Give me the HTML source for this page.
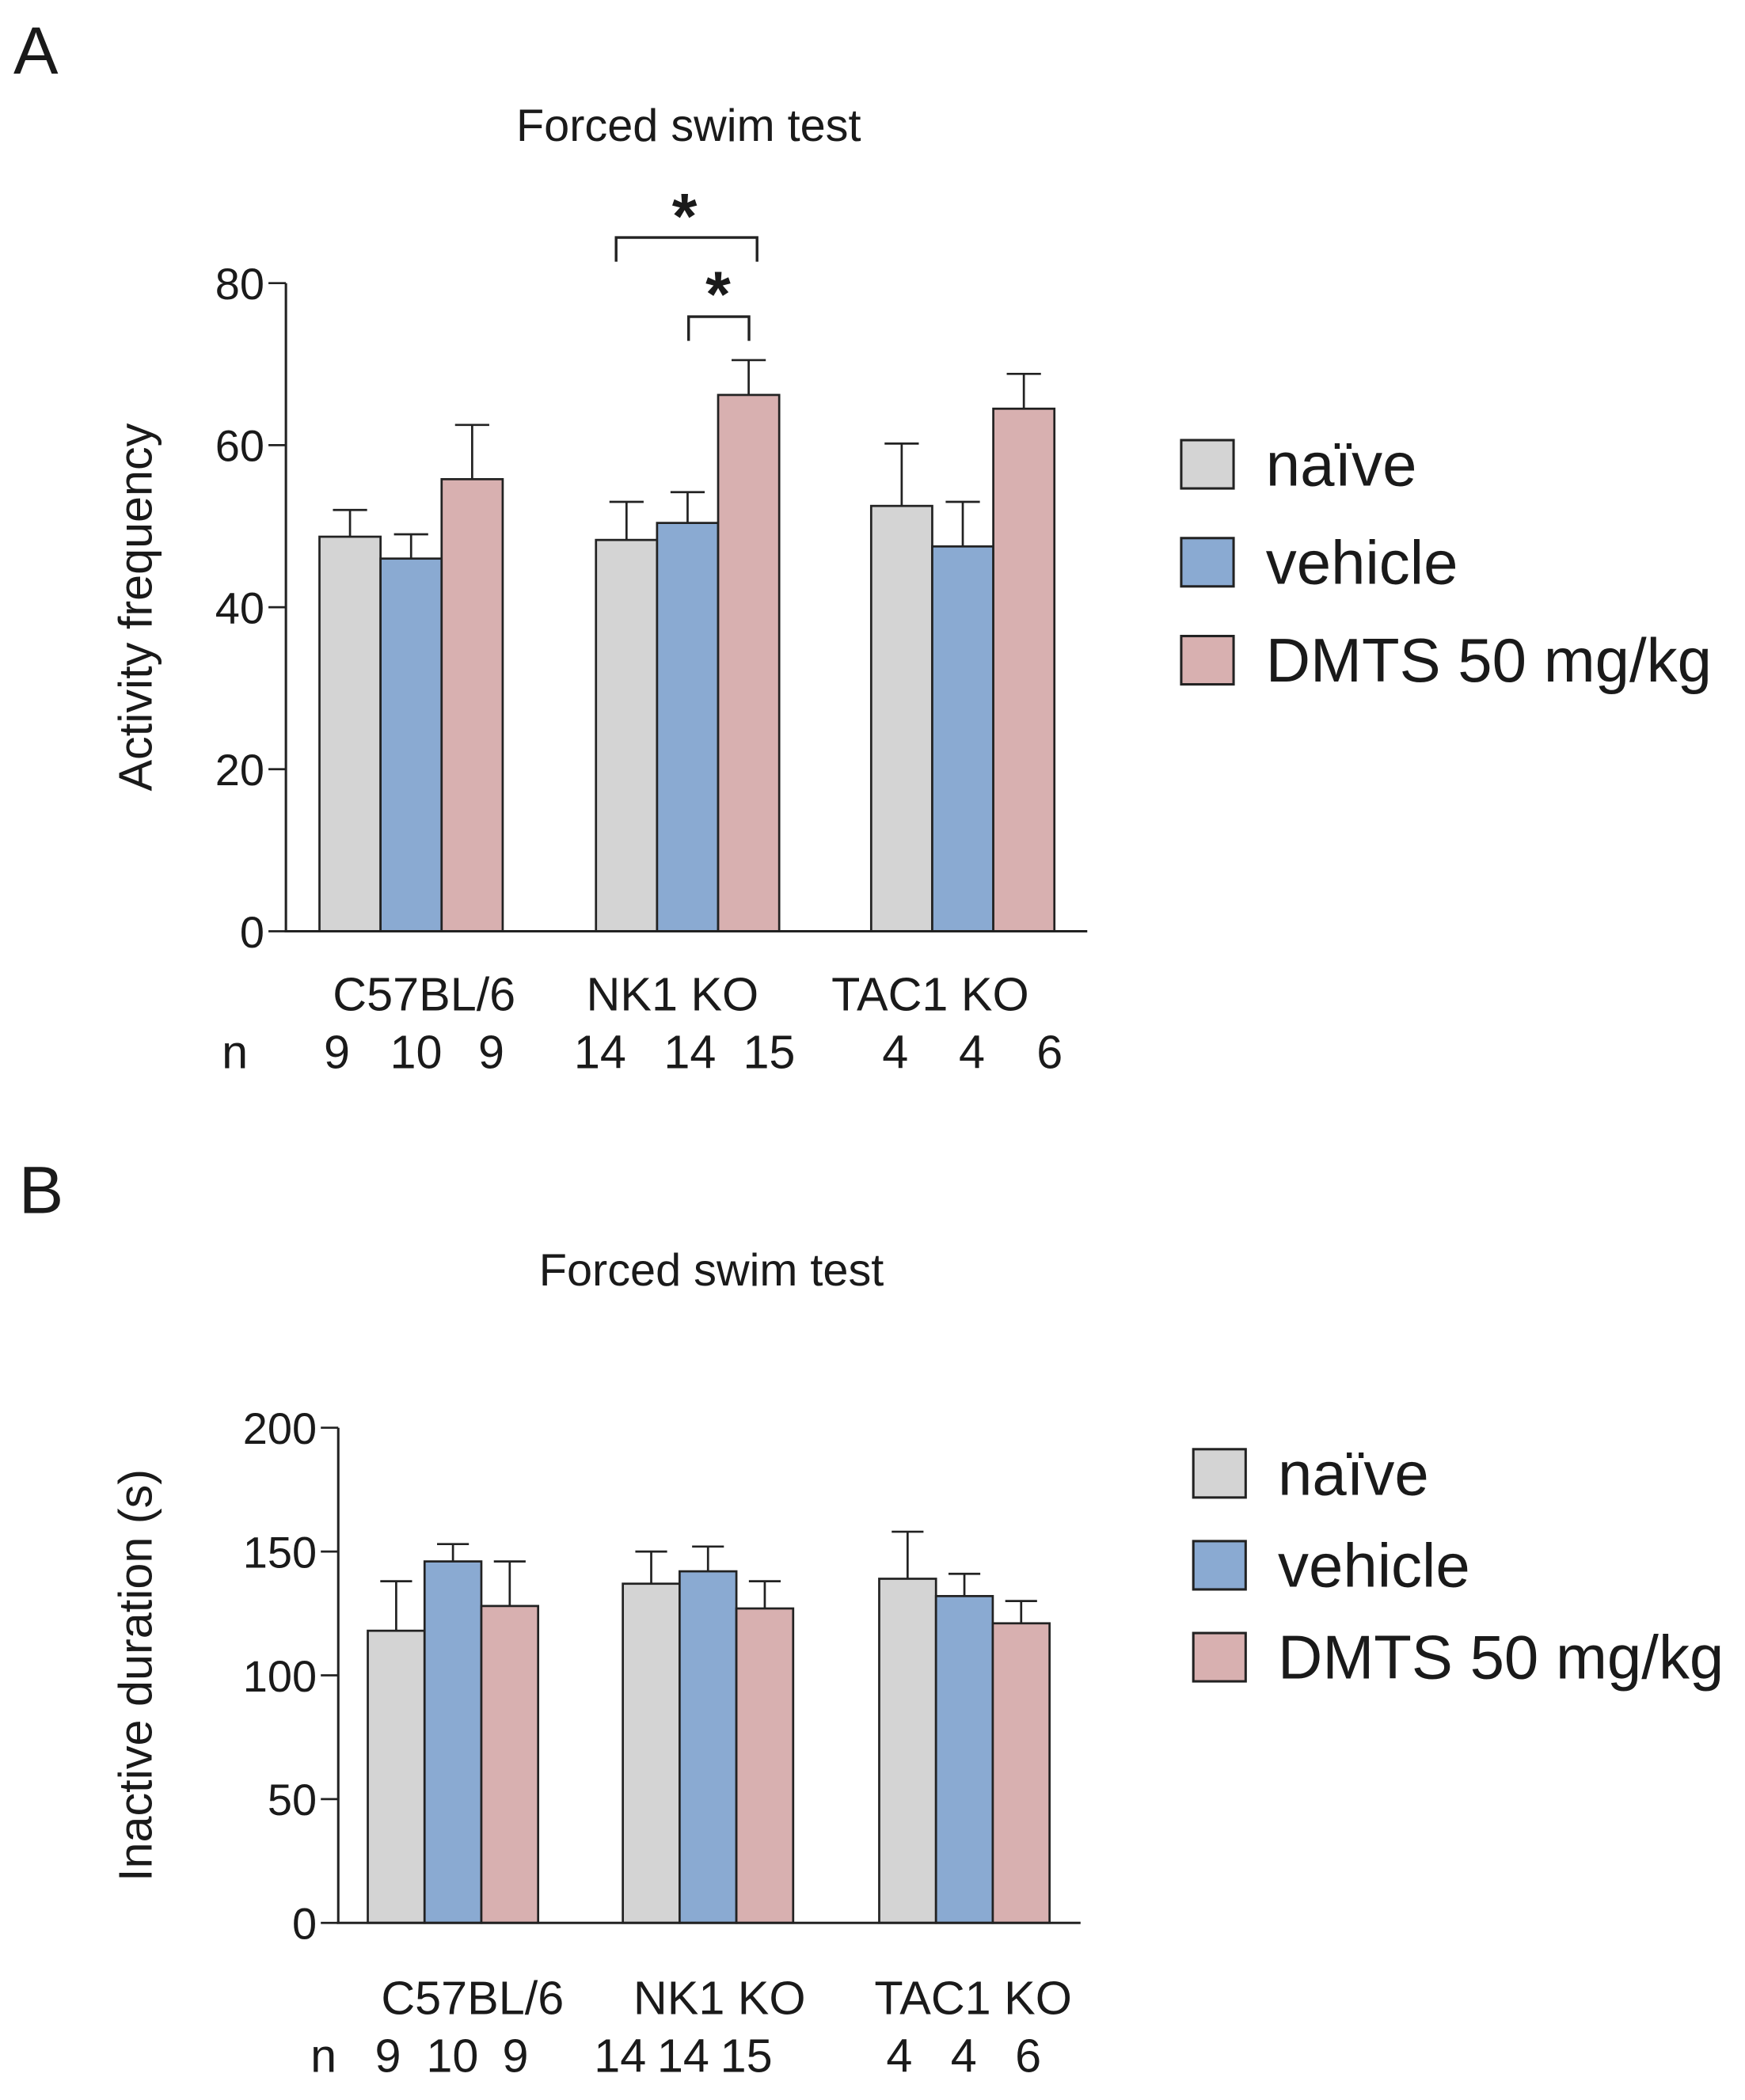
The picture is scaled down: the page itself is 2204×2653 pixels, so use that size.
<!DOCTYPE html>
<html><head><meta charset="utf-8"><style>
html,body{margin:0;padding:0;background:#fff;}
svg{display:block;}
text{font-family:"Liberation Sans",sans-serif;fill:#1a1a1a;}
</style></head><body>
<svg id="fig" width="2204" height="2653" viewBox="0 0 1300 1565" preserveAspectRatio="none">
<text x="10" y="55" font-size="50">A</text>
<text x="513" y="105" font-size="34" text-anchor="middle">Forced swim test</text>
<text x="14" y="904" font-size="50">B</text>
<text x="530" y="958" font-size="34" text-anchor="middle">Forced swim test</text>
<g id="gA"></g>
<g id="gB"></g>
</svg>
<script>
const groups = ["C57BL/6","NK1 KO","TAC1 KO"];
const seriesNames = ["naïve","vehicle","DMTS 50 mg/kg"];
const colors = ["#d4d4d4","#8aaad2","#d8b0b0"];
const aNaive = [48.7,48.3,52.5];
const aNaiveErr = [3.3,4.7,7.7];
const aVehicle = [46,50.4,47.5];
const aVehicleErr = [3,3.8,5.5];
const aDmts = [55.8,66.2,64.5];
const aDmtsErr = [6.7,4.3,4.3];
const aTicks = [0,20,40,60,80];
const aN = [[9,10,9],[14,14,15],[4,4,6]];
const bNaive = [118,137,139];
const bNaiveErr = [20,13,19];
const bVehicle = [146,142,132];
const bVehicleErr = [7,10,9];
const bDmts = [128,127,121];
const bDmtsErr = [18,11,9];
const bTicks = [0,50,100,150,200];
const bN = [[9,10,9],[14,14,15],[4,4,6]];

const NS="http://www.w3.org/2000/svg";
function mk(parent,tag,attrs,txt){const e=document.createElementNS(NS,tag);for(const k in attrs)e.setAttribute(k,attrs[k]);if(txt!==undefined)e.textContent=txt;parent.appendChild(e);return e;}

function draw(g,cfg){
  const y=v=>cfg.y0-(v-0)/(cfg.max)*(cfg.y0-cfg.yTop);
  const vals=[cfg.s[0],cfg.s[1],cfg.s[2]], errs=[cfg.e[0],cfg.e[1],cfg.e[2]];
  for(let gi=0;gi<groups.length;gi++){
    for(let si=0;si<3;si++){
      const x=cfg.gx[gi]+si*cfg.bw;
      const v=vals[si][gi], ev=v+errs[si][gi];
      const cx=x+cfg.bw/2;
      const el=mk(g,"line",{x1:cx,x2:cx,y1:y(v),y2:y(ev),stroke:"#222","stroke-width":1.6});
      
      
      const cap=mk(g,"line",{x1:cx-cfg.bw*0.28,x2:cx+cfg.bw*0.28,y1:y(ev),y2:y(ev),stroke:"#222","stroke-width":1.6});
      
      
      const r=mk(g,"rect",{x:x,y:y(v),width:cfg.bw,height:cfg.y0-y(v),fill:colors[si],stroke:"#222","stroke-width":1.6});
      
      
    }
  }
  mk(g,"line",{x1:cfg.ax,x2:cfg.ax,y1:cfg.y0,y2:cfg.yTop,stroke:"#222","stroke-width":1.8});
  mk(g,"line",{x1:cfg.ax-1,x2:cfg.xEnd,y1:cfg.y0,y2:cfg.y0,stroke:"#222","stroke-width":1.8});
  cfg.ticks.forEach(t=>{
    mk(g,"line",{x1:cfg.ax-13,x2:cfg.ax,y1:y(t),y2:y(t),stroke:"#222","stroke-width":1.6});
    const tl=mk(g,"text",{x:cfg.ax-16,y:y(t)+12,"font-size":33,"text-anchor":"end"},String(t));
    
    
  });
  const yt=mk(g,"text",{x:0,y:0,"font-size":35,"text-anchor":"middle",transform:`translate(${cfg.titleX},${(cfg.y0+cfg.yTop)/2}) rotate(-90)`},cfg.title);
  
  
  groups.forEach((gname,gi)=>{
    const t=mk(g,"text",{x:cfg.glx[gi],y:cfg.gly,"font-size":35,"text-anchor":"middle"},gname);
    
    
    cfg.n[gi].forEach((nv,si)=>{
      const nt=mk(g,"text",{x:cfg.nx[gi*3+si],y:cfg.gly+43,"font-size":35,"text-anchor":"middle"},String(nv));
      
      
    });
  });
  mk(g,"text",{x:cfg.nLabelX,y:cfg.gly+43,"font-size":35,"text-anchor":"middle"},"n");
  seriesNames.forEach((s,si)=>{
    const ly=cfg.legY+si*cfg.legStep;
    const b=mk(g,"rect",{x:cfg.legX,y:ly,width:39,height:36,fill:colors[si],stroke:"#222","stroke-width":1.8});
    
    
    const lt=mk(g,"text",{x:cfg.legX+63,y:ly+34,"font-size":46},s);
    
    
  });
}
draw(document.getElementById('gA'),{s:[aNaive,aVehicle,aDmts],e:[aNaiveErr,aVehicleErr,aDmtsErr],
  ticks:aTicks,max:80,y0:694,yTop:211,ax:213,xEnd:810,gx:[238,444,649],bw:45.5,title:"Activity frequency",titleX:113,
  glx:[316,501,693],gly:753,n:aN,nx:[251,310,366,447,514,573,667,724,782],nLabelX:175,legX:880,legY:328,legStep:73});
draw(document.getElementById('gB'),{s:[bNaive,bVehicle,bDmts],e:[bNaiveErr,bVehicleErr,bDmtsErr],
  ticks:bTicks,max:200,y0:1433,yTop:1064,ax:252,xEnd:805,gx:[274,464,655],bw:42.3,title:"Inactive duration (s)",titleX:113,
  glx:[352,536,725],gly:1501,n:bN,nx:[289,337,384,462,509,556,670,718,766],nLabelX:241,legX:889,legY:1080,legStep:68.5});
const gA=document.getElementById('gA');
const br1=mk(gA,"path",{d:"M459 195 V177 H564 V195",fill:"none",stroke:"#222","stroke-width":2});


const br2=mk(gA,"path",{d:"M513 254 V236 H558 V254",fill:"none",stroke:"#222","stroke-width":2});


const s1=mk(gA,"text",{x:510,y:178,"font-size":48,"font-weight":"bold","text-anchor":"middle"},"*");


const s2=mk(gA,"text",{x:535,y:236,"font-size":48,"font-weight":"bold","text-anchor":"middle"},"*");


</script>
</body></html>
